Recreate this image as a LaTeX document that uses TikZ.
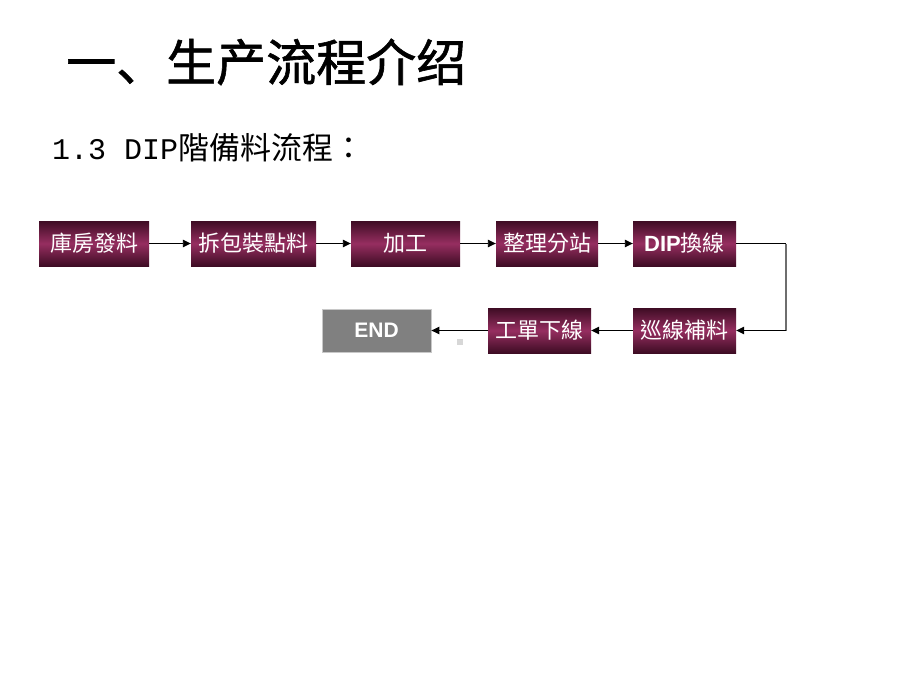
\documentclass[tikz,border=0pt]{standalone}
\usepackage{fontspec}
\setmainfont{Liberation Sans}
\newfontfamily\cjk{Noto Sans CJK TC}
\newfontfamily\cjksc[FakeBold=1.2]{Noto Sans CJK SC}
\newfontfamily\latmono{Liberation Mono}
\usetikzlibrary{arrows.meta}
\definecolor{boxdark}{RGB}{62,12,36}
\definecolor{boxmid}{RGB}{150,46,96}
\definecolor{endgray}{RGB}{128,128,128}
\definecolor{endborder}{RGB}{200,200,200}
\definecolor{dotgray}{RGB}{215,215,215}
\definecolor{linegray}{RGB}{110,110,110}
\tikzset{
  flowbox/.style={shading=axis, top color=boxdark, bottom color=boxdark, middle color=boxmid,
    minimum height=45pt, inner sep=0pt, text=white, font=\cjk\fontsize{22}{24}\selectfont},
  endbox/.style={fill=endgray, draw=endborder, line width=0.8pt, minimum height=43pt, inner sep=0pt,
    text=white, font=\bfseries\fontsize{21}{24}\selectfont},
  flowarrow/.style={draw=black, line width=0.9pt, -{Triangle[length=8pt,width=7.5pt]}},
  flowline/.style={draw=black, line width=0.9pt}
}
\begin{document}
\begin{tikzpicture}[x=1pt,y=-1pt]
\useasboundingbox (0,0) rectangle (920,690);
\node[anchor=west, inner sep=0pt, font=\cjksc\fontsize{50}{54}\selectfont] (title) at (66,62) {一、生产流程介绍};
\node[anchor=west, inner sep=0pt] (sub) at (52,148) {\fontsize{30}{34}\selectfont{\latmono 1.3 DIP}{\cjk\fontsize{31}{34}\selectfont 階備料流程：}};

\node[flowbox, minimum width=110pt] (b1) at (94,243.5) {庫房發料};
\node[flowbox, minimum width=125pt] (b2) at (253.5,243.5) {拆包裝點料};
\node[flowbox, minimum width=109pt] (b3) at (405.5,243.5) {加工};
\node[flowbox, minimum width=102pt] (b4) at (547,243.5) {整理分站};
\node[flowbox, minimum width=103pt] (b5) at (684.5,243.5) {{\rmfamily\bfseries DIP}換線};
\node[flowbox, minimum width=103pt] (b6) at (684.5,330.5) {巡線補料};
\node[flowbox, minimum width=103pt] (b7) at (539.5,330.5) {工單下線};
\node[endbox, minimum width=109pt] (end) at (376.5,330.5) {END};
\node[fill=dotgray, minimum size=6pt, inner sep=0pt] (dot) at (460,342) {};

\coordinate (c1) at (786,243.5);
\coordinate (c2) at (786,330.5);

\draw[flowarrow] (b1) -- (b2);
\draw[flowarrow] (b2) -- (b3);
\draw[flowarrow] (b3) -- (b4);
\draw[flowarrow] (b4) -- (b5);
\draw[flowline] (b5.east) -- (c1);
\draw[draw=linegray, line width=1.2pt] (c1) -- (c2);
\draw[flowarrow] (c2) -- (b6.east);
\draw[flowarrow] (b6) -- (b7);
\draw[flowarrow] (b7) -- (end);
\end{tikzpicture}
\end{document}
